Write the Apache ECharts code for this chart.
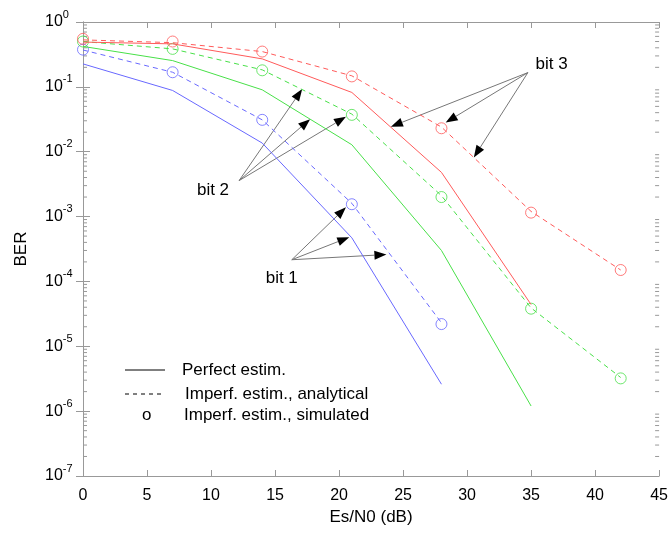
<!DOCTYPE html>
<html>
<head>
<meta charset="utf-8">
<script src="https://cdn.jsdelivr.net/npm/echarts@6/dist/echarts.min.js"></script>
<style>
  html, body { margin: 0; padding: 0; background: #fff; }
  #chart { width: 671px; height: 533px; }
</style>
</head>
<body>
<div id="chart"></div>
<script>
const FONT = '"Liberation Sans", Arial, Helvetica, sans-serif';

// Es/N0 (dB) sample points
const snr = [0, 7, 14, 21, 28, 35, 42];

// BER curves
const bit1Perfect = [0.226, 0.088, 0.0136, 4.7e-4, 2.6e-6];
const bit1Analytic = [0.37, 0.168, 0.031, 1.6e-3, 2.3e-5];
const bit1Sim = [0.375, 0.168, 0.031, 1.55e-3, 2.2e-5];

const bit2Perfect = [0.42, 0.254, 0.09, 0.0128, 3.0e-4, 1.2e-6];
const bit2Analytic = [0.5, 0.385, 0.183, 0.038, 2.1e-3, 3.9e-5, 3.3e-6];
const bit2Sim = [0.5, 0.385, 0.18, 0.037, 2.0e-3, 3.8e-5, 3.2e-6];

const bit3Perfect = [0.49, 0.46, 0.27, 0.082, 4.8e-3, 4.4e-5];
const bit3Analytic = [0.53, 0.48, 0.35, 0.148, 0.024, 1.2e-3, 1.5e-4];
const bit3Sim = [0.55, 0.5, 0.35, 0.145, 0.023, 1.15e-3, 1.5e-4];

const COLORS = { bit1: "#6868ff", bit2: "#48e048", bit3: "#ff5a5a" };

const xTicks = [0, 45, 5];      // min, max, step
const yRange = [1e-7, 1];

// annotations: label position and arrow tips, in data units
const notes = [
  { text: "bit 3", at: [35.35, 0.223], from: [34.75, 0.166],
    tips: [[24.05, 0.0243], [28.33, 0.0282], [30.53, 8.17e-3]] },
  { text: "bit 2", at: [8.9, 2.55e-3], from: [12.19, 3.58e-3],
    tips: [[17.12, 0.0923], [17.74, 0.0318], [20.54, 0.0345]] },
  { text: "bit 1", at: [14.27, 1.12e-4], from: [16.31, 2.16e-4],
    tips: [[20.54, 1.39e-3], [20.8, 4.81e-4], [23.7, 2.6e-4]] }
];

const legendRows = ["Perfect estim.", "Imperf. estim., analytical", "Imperf. estim., simulated"];

// log minor tick values 2..9 x 10^n
const minorTickValues = [];
for (let n = -7; n < 0; n++) {
  for (let k = 2; k <= 9; k++) minorTickValues.push([0, k * Math.pow(10, n)]);
}

function pairs(arr) { return arr.map((v, i) => [snr[i], v]); }

function lineSeries(name, arr, color, dashed) {
  return {
    name, type: "line", data: pairs(arr), symbol: "none", silent: true,
    lineStyle: { color, width: 1, type: dashed ? [5, 4] : "solid" }
  };
}

function simSeries(name, arr, color) {
  return {
    name, type: "scatter", data: pairs(arr), symbol: "circle", symbolSize: 11, silent: true,
    itemStyle: { color: "rgba(0,0,0,0)", borderColor: color, borderWidth: 1 }
  };
}

const axisGray = "#999";
const chart = echarts.init(document.getElementById("chart"));

chart.setOption({
  animation: false,
  grid: { left: 83, right: 10, top: 22, bottom: 57 },
  xAxis: [
    {
      type: "value", min: xTicks[0], max: xTicks[1], interval: xTicks[2],
      name: "Es/N0 (dB)", nameLocation: "middle", nameGap: 29,
      nameTextStyle: { fontFamily: FONT, fontSize: 17, color: "#000" },
      axisLine: { lineStyle: { color: axisGray } },
      axisTick: { inside: true, length: 6, lineStyle: { color: axisGray } },
      axisLabel: { fontFamily: FONT, fontSize: 16, color: "#000", margin: 12 },
      splitLine: { show: false }
    },
    {
      type: "value", position: "top", min: xTicks[0], max: xTicks[1], interval: xTicks[2],
      axisLine: { lineStyle: { color: axisGray } },
      axisTick: { inside: true, length: 6, lineStyle: { color: axisGray } },
      axisLabel: { show: false }, splitLine: { show: false }
    }
  ],
  yAxis: [
    {
      type: "log", logBase: 10, min: yRange[0], max: yRange[1], interval: 1,
      name: "BER", nameLocation: "middle", nameGap: 53, nameRotate: 90,
      nameTextStyle: { fontFamily: FONT, fontSize: 17, color: "#000" },
      axisLine: { show: true, lineStyle: { color: axisGray } },
      axisTick: { inside: true, length: 7, lineStyle: { color: axisGray } },
      axisLabel: {
        margin: 38, align: "left", padding: [0, 0, 0, 0],
        formatter: v => "{b|10}{e|" + Math.round(Math.log10(v)) + "}",
        rich: {
          b: { fontFamily: FONT, fontSize: 16, lineHeight: 16, color: "#000", verticalAlign: "bottom" },
          e: { fontFamily: FONT, fontSize: 11, lineHeight: 11, color: "#000", verticalAlign: "bottom", padding: [0, 0, 10, 0] }
        }
      },
      splitLine: { show: false }
    },
    {
      type: "log", logBase: 10, min: yRange[0], max: yRange[1], interval: 1, position: "right",
      axisLine: { show: true, lineStyle: { color: axisGray } },
      axisTick: { inside: true, length: 7, lineStyle: { color: axisGray } },
      axisLabel: { show: false }, splitLine: { show: false }
    }
  ],
  series: [
    {
      type: "custom", silent: true, data: minorTickValues, encode: { x: 0, y: 1 }, clip: false,
      renderItem: (params, api) => {
        const v = api.value(1);
        const l = api.coord([xTicks[0], v]);
        const r = api.coord([xTicks[1], v]);
        const st = { stroke: axisGray, lineWidth: 1 };
        return {
          type: "group",
          children: [
            { type: "line", shape: { x1: l[0], y1: l[1], x2: l[0] + 4, y2: l[1] }, style: st },
            { type: "line", shape: { x1: r[0], y1: r[1], x2: r[0] - 4, y2: r[1] }, style: st }
          ]
        };
      }
    },
    lineSeries("bit 1 perfect", bit1Perfect, COLORS.bit1, false),
    lineSeries("bit 1 analytical", bit1Analytic, COLORS.bit1, true),
    simSeries("bit 1 simulated", bit1Sim, COLORS.bit1),
    lineSeries("bit 2 perfect", bit2Perfect, COLORS.bit2, false),
    lineSeries("bit 2 analytical", bit2Analytic, COLORS.bit2, true),
    simSeries("bit 2 simulated", bit2Sim, COLORS.bit2),
    lineSeries("bit 3 perfect", bit3Perfect, COLORS.bit3, false),
    lineSeries("bit 3 analytical", bit3Analytic, COLORS.bit3, true),
    simSeries("bit 3 simulated", bit3Sim, COLORS.bit3)
  ]
});

// arrows and labels, placed through the chart's own scales
function buildAnnotations() {
  const els = [];
  const px = p => chart.convertToPixel({ gridIndex: 0 }, p);
  notes.forEach(n => {
    const t = px(n.at);
    els.push({
      type: "text", x: t[0], y: t[1], silent: true,
      style: { text: n.text, font: "17px " + FONT, fill: "#000", verticalAlign: "middle" }
    });
    const o = px(n.from);
    n.tips.forEach(tp => {
      const e = px(tp);
      const dx = e[0] - o[0], dy = e[1] - o[1];
      const len = Math.hypot(dx, dy);
      const ux = dx / len, uy = dy / len;
      const bx = e[0] - ux * 12, by = e[1] - uy * 12;
      els.push({
        type: "line", silent: true,
        shape: { x1: o[0], y1: o[1], x2: bx, y2: by },
        style: { stroke: "#777", lineWidth: 1 }
      });
      els.push({
        type: "polygon", silent: true,
        shape: { points: [[e[0], e[1]], [bx - uy * 4.5, by + ux * 4.5], [bx + uy * 4.5, by - ux * 4.5]] },
        style: { fill: "#000" }
      });
    });
  });

  // legend block
  const lx = 125, ly = [370, 394, 415];
  els.push({ type: "line", silent: true, shape: { x1: lx, y1: ly[0], x2: lx + 40, y2: ly[0] }, style: { stroke: "#000", lineWidth: 1 } });
  els.push({ type: "line", silent: true, shape: { x1: lx, y1: ly[1], x2: lx + 40, y2: ly[1] }, style: { stroke: "#000", lineWidth: 1, lineDash: [4, 4] } });
  els.push({ type: "text", silent: true, x: lx + 17, y: ly[2], style: { text: "o", font: "17px " + FONT, fill: "#000", verticalAlign: "middle" } });
  const tx = [182, 185, 184];
  legendRows.forEach((s, i) => {
    els.push({ type: "text", silent: true, x: tx[i], y: ly[i], style: { text: s, font: "17px " + FONT, fill: "#000", verticalAlign: "middle" } });
  });
  chart.setOption({ graphic: els });
}

buildAnnotations();
</script>
</body>
</html>
